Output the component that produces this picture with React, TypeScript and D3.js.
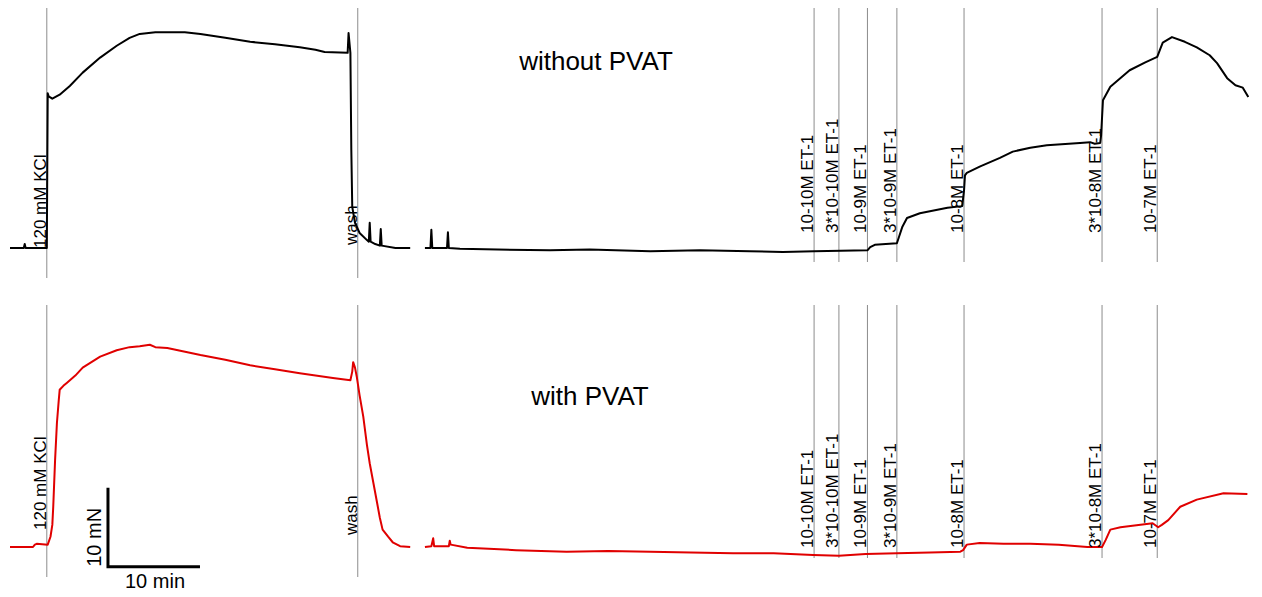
import React from "react"
import * as d3 from "d3"

// time in minutes, force in mN
const markerTimes = [4.0, 37.8, 87.4, 90.1, 93.2, 96.4, 103.7, 118.7, 124.7]
const markerLabels = [
  "120 mM KCl",
  "wash",
  "10-10M ET-1",
  "3*10-10M ET-1",
  "10-9M ET-1",
  "3*10-9M ET-1",
  "10-8M ET-1",
  "3*10-8M ET-1",
  "10-7M ET-1",
]

// NaN marks the break in the recording
const withoutPvat: [number, number][] = [
  [0, 0], [1.5, 0], [1.6, 0.5], [1.7, 0], [4.0, 0], [4.1, 19.6], [4.2, 19.2], [4.6, 18.9],
  [5.4, 19.4], [6.5, 20.5], [7.9, 22.2], [9.8, 24.1], [11.6, 25.6], [13.0, 26.6], [14.1, 27.1],
  [15.8, 27.3], [17.1, 27.3], [19.0, 27.3], [20.7, 27.1], [23.4, 26.6], [26.1, 26.1], [28.8, 25.8],
  [31.5, 25.4], [33.2, 25.1], [34.2, 24.8], [36.7, 24.7], [36.8, 27.2], [37.0, 24.7], [37.1, 12.4],
  [37.2, 5.2], [37.5, 3.2], [38.0, 1.9], [38.8, 1.0], [39.0, 0.8], [39.1, 3.2], [39.2, 0.8],
  [39.7, 0.5], [40.2, 0.3], [40.3, 2.4], [40.4, 0.3], [41.9, 0], [43.5, 0], [44.3, NaN],
  [45.1, 0], [45.7, 0], [45.8, 2.3], [45.9, 0], [47.5, 0], [47.6, 2.0], [47.7, 0], [48.9, -0.1],
  [53.0, -0.2], [58.7, -0.3], [63.0, -0.2], [69.6, -0.4], [75.0, -0.3], [80.4, -0.4], [84.0, -0.5],
  [87.4, -0.4], [93.2, -0.3], [93.5, 0.1], [94.0, 0.4],
  [96.4, 0.6], [96.6, 1.3], [97.0, 2.7], [97.5, 3.8], [98.9, 4.4], [101.9, 5.1], [103.5, 5.3],
  [103.7, 7.3], [103.8, 9.2], [104.0, 9.5], [105.4, 10.3], [107.6, 11.4], [109.0, 12.2],
  [110.9, 12.7], [112.7, 13.0], [116.3, 13.3], [117.4, 13.4], [117.9, 13.2], [118.5, 13.3],
  [118.6, 14.3], [118.8, 18.7], [119.6, 20.4], [121.7, 22.5], [123.4, 23.5], [124.7, 24.2],
  [125.0, 25.1], [125.3, 26.0], [126.3, 26.7], [127.7, 26.1], [129.0, 25.4], [130.4, 24.4],
  [131.2, 23.4], [132.3, 21.5], [133.2, 20.6], [134.0, 20.3], [134.6, 19.1],
]

const withPvat: [number, number][] = [
  [0, 0], [2.5, 0], [2.7, 0.3], [2.9, 0.4], [4.1, 0.3], [4.4, 1.3], [4.6, 2.8], [4.7, 5.1],
  [4.9, 11.0], [5.1, 15.7], [5.3, 18.6], [5.4, 19.9], [5.8, 20.4], [6.2, 20.8], [7.1, 21.7],
  [7.9, 22.7], [9.8, 24.1], [11.6, 24.9], [13.0, 25.3], [14.1, 25.4], [15.2, 25.6], [15.8, 25.3],
  [17.1, 25.2], [20.7, 24.3], [23.4, 23.7], [26.1, 23.0], [28.8, 22.5], [31.5, 22.0], [35.1, 21.4],
  [37.0, 21.1], [37.2, 22.2], [37.3, 23.4], [37.5, 22.7], [37.7, 21.5], [38.0, 19.2], [38.4, 16.5],
  [38.8, 12.9], [39.1, 10.6], [39.5, 8.1], [39.9, 5.6], [40.2, 3.7], [40.5, 2.2], [41.1, 1.3],
  [41.6, 0.6], [42.4, 0.1], [43.5, 0], [44.3, NaN], [45.1, 0], [45.8, 0.1], [46.0, 1.1],
  [46.1, 0.1], [47.7, 0.1], [47.8, 0.8], [47.9, 0.3], [49.7, -0.1], [55.0, -0.4], [60.5, -0.6],
  [65.0, -0.5], [69.6, -0.6], [74.0, -0.7], [78.6, -0.8], [83.0, -0.8], [87.3, -1.0], [90.1, -1.1],
  [93.0, -0.9], [96.4, -0.8], [100.0, -0.7], [103.3, -0.6], [103.6, -0.4],
  [104.0, 0.3], [105.4, 0.5], [108.0, 0.4], [110.9, 0.4], [114.0, 0.3], [117.1, 0], [118.7, 0],
  [119.1, 0.9], [119.6, 2.2], [120.7, 2.5], [124.2, 3.0], [124.8, 2.5], [125.2, 2.8], [125.9, 3.4],
  [127.2, 5.1], [129.0, 6.0], [131.9, 6.8], [134.5, 6.7],
]

// scale bar: 10 min x 10 mN
const scaleBarTime = [10.65, 20.65]
const scaleBarForce = [-2.5, 7.5]

const W = 1262
const H = 597
const font = "'Liberation Sans', Arial, sans-serif"

const panels = [
  {
    title: "without PVAT", data: withoutPvat, colour: "#000000",
    base: 248, titleX: 596, titleY: 70, lineTop: 8, lineEnd: 262, longEnd: 278,
    labelY: [248, 245, 233, 233, 233, 233, 233, 233, 233],
  },
  {
    title: "with PVAT", data: withPvat, colour: "#e00000",
    base: 547, titleX: 590, titleY: 405, lineTop: 305, lineEnd: 558, longEnd: 577,
    labelY: [530, 535, 548, 548, 548, 548, 548, 548, 548],
  },
]

const x = d3.scaleLinear().domain([0, 135]).range([10, 1252])

const Panel = ({ p }: { p: typeof panels[0] }) => {
  const y = d3.scaleLinear().domain([0, 30]).range([p.base, p.base - 237])
  const line = d3
    .line<[number, number]>()
    .defined(d => !isNaN(d[1]))
    .x(d => x(d[0]))
    .y(d => y(d[1]))
  return (
    <g>
      {markerTimes.map((t, i) => (
        <line
          key={"m" + i}
          x1={x(t)}
          x2={x(t)}
          y1={p.lineTop}
          y2={i < 2 ? p.longEnd : p.lineEnd}
          stroke="#8c8c8c"
          strokeWidth={1}
        />
      ))}
      <path d={line(p.data) || ""} fill="none" stroke={p.colour} strokeWidth={2} strokeLinejoin="round" />
      {markerLabels.map((l, i) => (
        <text
          key={"l" + i}
          transform={`translate(${x(markerTimes[i]) - 1},${p.labelY[i]}) rotate(-90)`}
          fontSize={17}
          fontFamily={font}
          fill="#000"
        >
          {l}
        </text>
      ))}
      <text x={p.titleX} y={p.titleY} textAnchor="middle" fontSize={26} fontFamily={font} fill="#000">
        {p.title}
      </text>
    </g>
  )
}

const App = () => {
  const yb = d3.scaleLinear().domain([0, 30]).range([547, 310])
  const bar = d3.line<[number, number]>().x(d => x(d[0])).y(d => yb(d[1]))
  const barPts: [number, number][] = [
    [scaleBarTime[0], scaleBarForce[1]],
    [scaleBarTime[0], scaleBarForce[0]],
    [scaleBarTime[1], scaleBarForce[0]],
  ]
  return (
    <svg width={W} height={H} style={{ position: "absolute", left: 0, top: 0, background: "#fff" }}>
      {panels.map((p, i) => (
        <Panel key={i} p={p} />
      ))}
      <path d={bar(barPts) || ""} fill="none" stroke="#000" strokeWidth={3} />
      <text
        transform={`translate(${x(scaleBarTime[0]) - 7},${yb(scaleBarForce[0])}) rotate(-90)`}
        fontSize={20}
        fontFamily={font}
      >
        10 mN
      </text>
      <text x={x(scaleBarTime[0]) + 17} y={588} fontSize={20} fontFamily={font}>
        10 min
      </text>
    </svg>
  )
}

export default App
